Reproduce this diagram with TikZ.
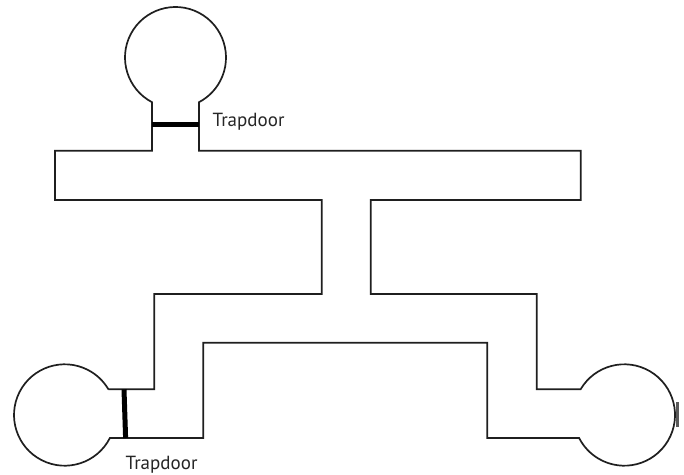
\documentclass[tikz,border=0pt]{standalone}
\usepackage{fontspec}
\setmainfont{PT Sans}
\begin{document}
\begin{tikzpicture}[x=1pt,y=1pt,
  wall/.style={line width=1.7pt, draw=black!88, line join=miter},
  trap/.style={line width=5pt, draw=black},
  lbl/.style={font=\fontsize{19}{21}\selectfont, text=black!85, inner sep=0pt, anchor=base west}]
\useasboundingbox[fill=white] (0,0) rectangle (684,474);
% room centres
\coordinate (ctop) at (175.5,416.5);
\coordinate (cleft) at (64.7,59);
\coordinate (cright) at (624.3,59);
% outline of the whole maze
\draw[wall]
  (108.4,84.7) -- (154.3,84.7) -- (154.3,180) -- (321.7,180) -- (321.7,274)
  -- (55,274) -- (55,323.3) -- (152,323.3) -- (152,371.8)
  arc[start angle=242.27, end angle=-62.27, radius=50.5]
  -- (199,323.3) -- (580.7,323.3) -- (580.7,274) -- (370.7,274) -- (370.7,180)
  -- (536.7,180) -- (536.7,84.7) -- (580.6,84.7)
  arc[start angle=149.54, end angle=-153.02, radius=50.7]
  -- (487.3,36) -- (487.3,131.3) -- (203.3,131.3) -- (203.3,36) -- (109.9,36)
  arc[start angle=-26.98, end angle=-329.54, radius=50.7]
  -- cycle;
% trapdoors
\coordinate (t1a) at (152,349.7);
\coordinate (t1b) at (199,349.7);
\draw[trap] (t1a) -- (t1b);
\coordinate (t2a) at (124,84.7);
\coordinate (t2b) at (125.6,36);
\draw[trap] (t2a) -- (t2b);
\coordinate (t3a) at (677,72);
\coordinate (t3b) at (677,47);
\draw[line width=3pt, draw=black!65] (t3a) -- (t3b);
% labels
\node[lbl] (ltop) at (212.5,347.3) {Trapdoor};
\node[lbl] (lbot) at (125.5,5) {Trapdoor};
\end{tikzpicture}
\end{document}
